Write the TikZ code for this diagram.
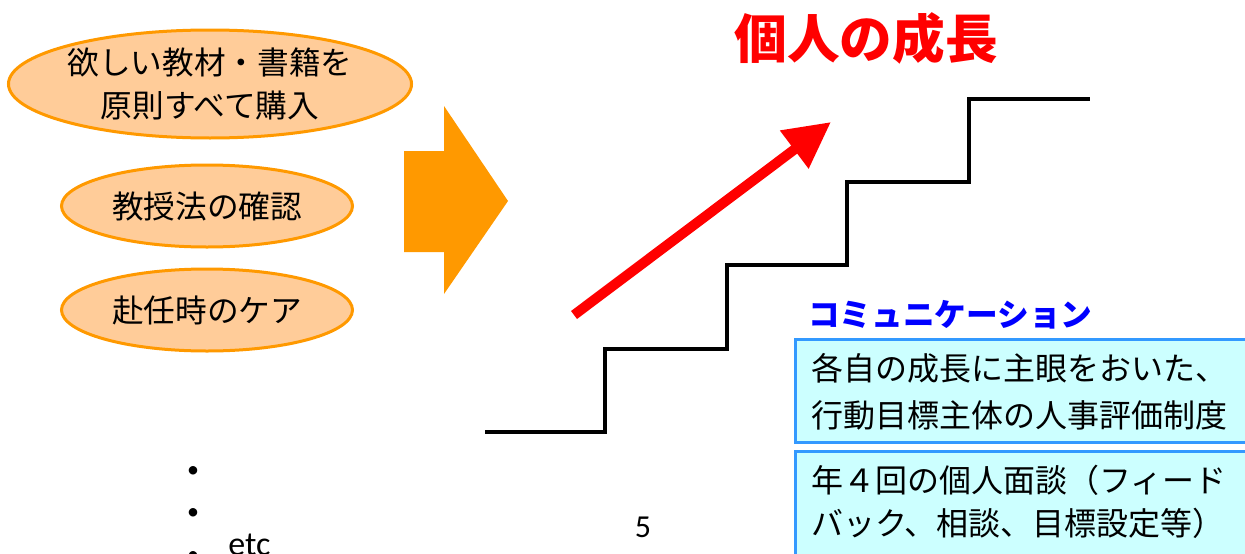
\documentclass[tikz,border=0pt]{standalone}
\usepackage{fontspec}
\setmainfont{Carlito}
\newfontfamily\jp{Noto Sans CJK JP}
\usetikzlibrary{shapes.geometric,arrows.meta}
\definecolor{ellfill}{HTML}{FFCC99}
\definecolor{ellline}{HTML}{FF9900}
\definecolor{boxfill}{HTML}{CCFFFF}
\definecolor{boxline}{HTML}{3399FF}
\definecolor{combl}{HTML}{0000FF}
\begin{document}
\begin{tikzpicture}[x=0.75pt,y=-0.75pt,
  ell/.style={ellipse, draw=ellline, fill=ellfill, line width=2.25pt, inner sep=0pt,
    font=\jp\fontsize{23.75pt}{32.25pt}\selectfont, align=center},
  jptext/.style={font=\jp\fontsize{24pt}{28pt}\selectfont, inner sep=0pt, anchor=west},
  infobox/.style={draw=boxline, fill=boxfill, line width=2.25pt},
  stairline/.style={line width=3pt, black},
  bulletdot/.style={font=\fontsize{18pt}{18pt}\selectfont, inner sep=0pt}
]
\useasboundingbox (0,0) rectangle (1245,553);
\clip (0,0) rectangle (1245,553);

% ellipses
\node[ell, minimum width=300pt, minimum height=81pt] (e1) at (210,84) {欲しい教材・書籍を\\原則すべて購入};
\node[ell, minimum width=218.25pt, minimum height=61.5pt] (e2) at (207,206) {教授法の確認};
\node[ell, minimum width=218.25pt, minimum height=61.5pt] (e3) at (207,310) {赴任時のケア};

% big orange arrow
\fill[ellline] (404,151) -- (444,151) -- (444,106) -- (508,201) -- (444,294) -- (444,252) -- (404,252) -- cycle;

% title
\node[font=\jp\bfseries\fontsize{39.5pt}{40pt}\selectfont, text=red] (title) at (866,38) {個人の成長};

% red arrow
\coordinate (rs) at (574,315);
\coordinate (re) at (831,122);
\draw[red, line width=7.5pt, -{Triangle[length=34.5pt,width=33.75pt]}] (rs) -- (re);

% stairs
\draw[stairline] (485,432) -- (605,432) -- (605,349) -- (727,349) -- (727,265) -- (847,265)
  -- (847,182) -- (969,182) -- (969,99) -- (1090,99);

% communication
\node[font=\jp\bfseries\fontsize{23.75pt}{28pt}\selectfont, text=combl, inner sep=0pt, anchor=west] (com) at (808,315) {コミュニケーション};

\draw[infobox] (795,339) rectangle (1252,442);
\node[jptext] (b1a) at (811,368) {各自の成長に主眼をおいた、};
\node[jptext] (b1b) at (811,415) {行動目標主体の人事評価制度};

\draw[infobox] (795,451) rectangle (1252,565);
\node[jptext] (b2a) at (811,480) {年４回の個人面談（フィード};
\node[jptext] (b2b) at (811,523) {バック、相談、目標設定等）};

% bullets
\node[bulletdot] (d1) at (193,472) {•};
\node[bulletdot] (d2) at (193,514) {•};
\node[bulletdot] (d3) at (193,557) {•};
\node[font=\fontsize{25.5pt}{26pt}\selectfont, inner sep=0pt, anchor=base west] (etc) at (228,555) {etc};

% page number
\node[font=\fontsize{24pt}{24pt}\selectfont, inner sep=0pt] (pg) at (643,527) {5};
\end{tikzpicture}
\end{document}
